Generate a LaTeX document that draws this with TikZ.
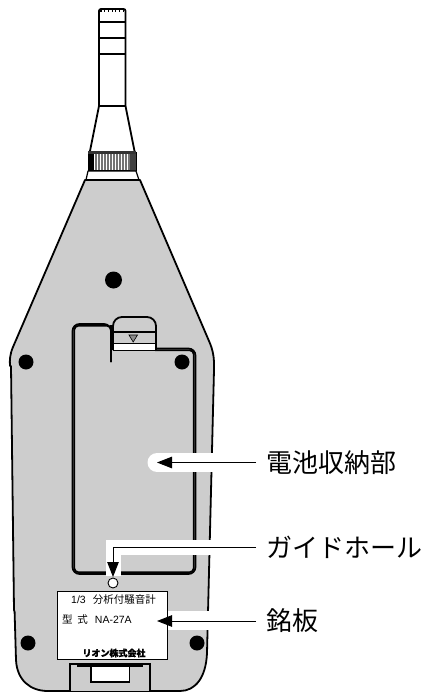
\documentclass[tikz,border=0pt]{standalone}
\usepackage{xcolor}
\usepackage{fontspec}
\newfontfamily\cjk{Noto Sans CJK JP}
\newfontfamily\arialish{Liberation Sans}
\usetikzlibrary{arrows.meta}
\definecolor{bodygray}{HTML}{CDCDCD}
\tikzset{
    outline/.style={draw=black, line width=1.8pt, line join=round},
    coverline/.style={draw=black, line width=1.7pt},
    screw/.style={circle, fill=black, inner sep=0pt, minimum size=15pt},
    pointer/.style={-{Triangle[length=15pt,width=11.5pt]}, line width=1pt},
    callout/.style={anchor=west, inner sep=0pt, inner xsep=10pt, font=\cjk\fontsize{26}{26}\selectfont},
    plate text/.style={inner sep=0pt, font=\cjk\fontsize{10.5}{12}\selectfont},
}

\begin{document}
\begin{tikzpicture}[x=1pt, y=-1pt]
            \useasboundingbox (0,0) rectangle (425,693);

            % microphone
            \draw[outline, rounded corners=2pt] (99,106) -- (99,9) -- (125.5,9) -- (125.5,106);
            \foreach \y in {22, 38, 54, 106} {
                \draw[line width=1.2pt] (99,\y) -- (125.5,\y);
            }
            \foreach \i in {0, 1, ..., 6} {
                \draw[line width=1.2pt] (\i*3.7+101,10) -- (\i*3.7+101,12.5);
            }
            \draw[outline] (99,106) -- (90,151);
            \draw[outline] (125.5,106) -- (134.5,151);

            % ring
            \draw[fill=white, line width=1pt] (88,152) rectangle (136,170);
            \fill[black] (88,151) rectangle (94,171);
            \fill[black!75] (130,151) rectangle (136,171);
            \fill[black!80] (88,151) rectangle (136,154);
            \foreach \i in {0, 1, ..., 11} {
                \draw[black!55, line width=1.1pt] (\i*3+96,154) -- (\i*3+96,170);
            }
            \draw[outline, line width=1.2pt, fill=white] (88,171) -- (86,180) -- (139,180) -- (136,171) -- cycle;

            % body
            \draw[outline, fill=bodygray] (85,180) -- (13,347) .. controls (10,354) and (9.5,360) .. (10,366)
                -- (11,366) -- (14,610) -- (14.6,612) -- (16,660) .. controls (17,680) and (30,691) .. (48,691)
                -- (180,691) .. controls (195,691) and (206,678) .. (207,653)
                -- (214,370) .. controls (214.5,358) and (213,350) .. (209,341) -- (140,180) -- cycle;

            % battery cover
            \foreach \d/\r in {0/7, 1.8/4} {
                \draw[coverline, rounded corners=\r pt] (111,362) -- (111,324+\d) -- (72.5+\d,324+\d)
                    -- (72.5+\d,574-\d) -- (195.5-\d,574-\d) -- (195.5-\d,348.5+\d) -- (155,348.5+\d);
            }
            \draw[line width=2.2pt] (111,325) -- (111,362);
            \draw[outline, fill=bodygray, rounded corners=9pt] (113,350) -- (113,317) -- (156,317) -- (156,350);
            \draw[line width=.8pt, fill=white] (113,343) rectangle (155.5,350);
            \draw[line width=1.4pt] (113,332) -- (156,332);
            \draw[line width=.6pt, fill=black!45] (129,335) -- (137.5,335) -- (133.2,342) -- cycle;

            % screws
            \node (topscrew) at (113.5,280) [screw, minimum size=17pt] {};
            \foreach \i/\x/\y in {1/26/362, 2/182/362, 3/28/643, 4/197/643} {
                \node (screw\i) at (\x,\y) [screw] {};
            }

            % latch
            \draw[line width=1.2pt, fill=bodygray] (70,691) -- (70,664) -- (150,664) -- (150,691);
            \draw[line width=1.6pt, fill=white] (91,666) rectangle (129.5,682);
            \draw[line width=2.4pt] (77,666) -- (143,666);

            % white bands behind the arrows
            \draw[white, line width=19pt, line cap=round] (157,462.5) -- (235,462.5);
            \fill[white] (106,540) rectangle (235,555);
            \fill[white] (106,540) rectangle (121,576);
            \fill[white] (160,611) rectangle (235,630);

            % hole and plate
            \node (hole) at (113,583) [circle, draw, fill=white, line width=.9pt, inner sep=0pt, minimum size=10pt] {};
            \node (plate) at (112.75,625) [draw, fill=white, line width=.9pt, inner sep=0pt, minimum width=110pt, minimum height=68pt] {};
            \node (model) at (113.5,599.5) [plate text] {{\arialish 1/3}\ \ \ 分析付騒音計};
            \node (kata) at (62,619.5) [plate text, anchor=west] {型\ \ 式\ \ \ {\arialish NA-27A}};
            \node (maker) at (114,653) [plate text, font=\cjk\fontsize{9}{10}\selectfont\bfseries\addfontfeature{FakeBold=1.5}] {リオン株式会社};

            % labels and arrows
            \node (battery) at (256,462.5) [callout] {電池収納部};
            \node (guide) at (256,547) [callout] {ガイドホール};
            \node (nameplate) at (256,621) [callout] {銘板};
            \coordinate (batterytip) at (157,462.5);
            \coordinate (guidetip) at (113,577);
            \coordinate (platetip) at (157,621);
            \draw[pointer] (battery.west) -- (batterytip);
            \draw[pointer] (guide.west) -| (guidetip);
            \draw[pointer] (nameplate.west) -- (platetip);
        \end{tikzpicture}
\end{document}
